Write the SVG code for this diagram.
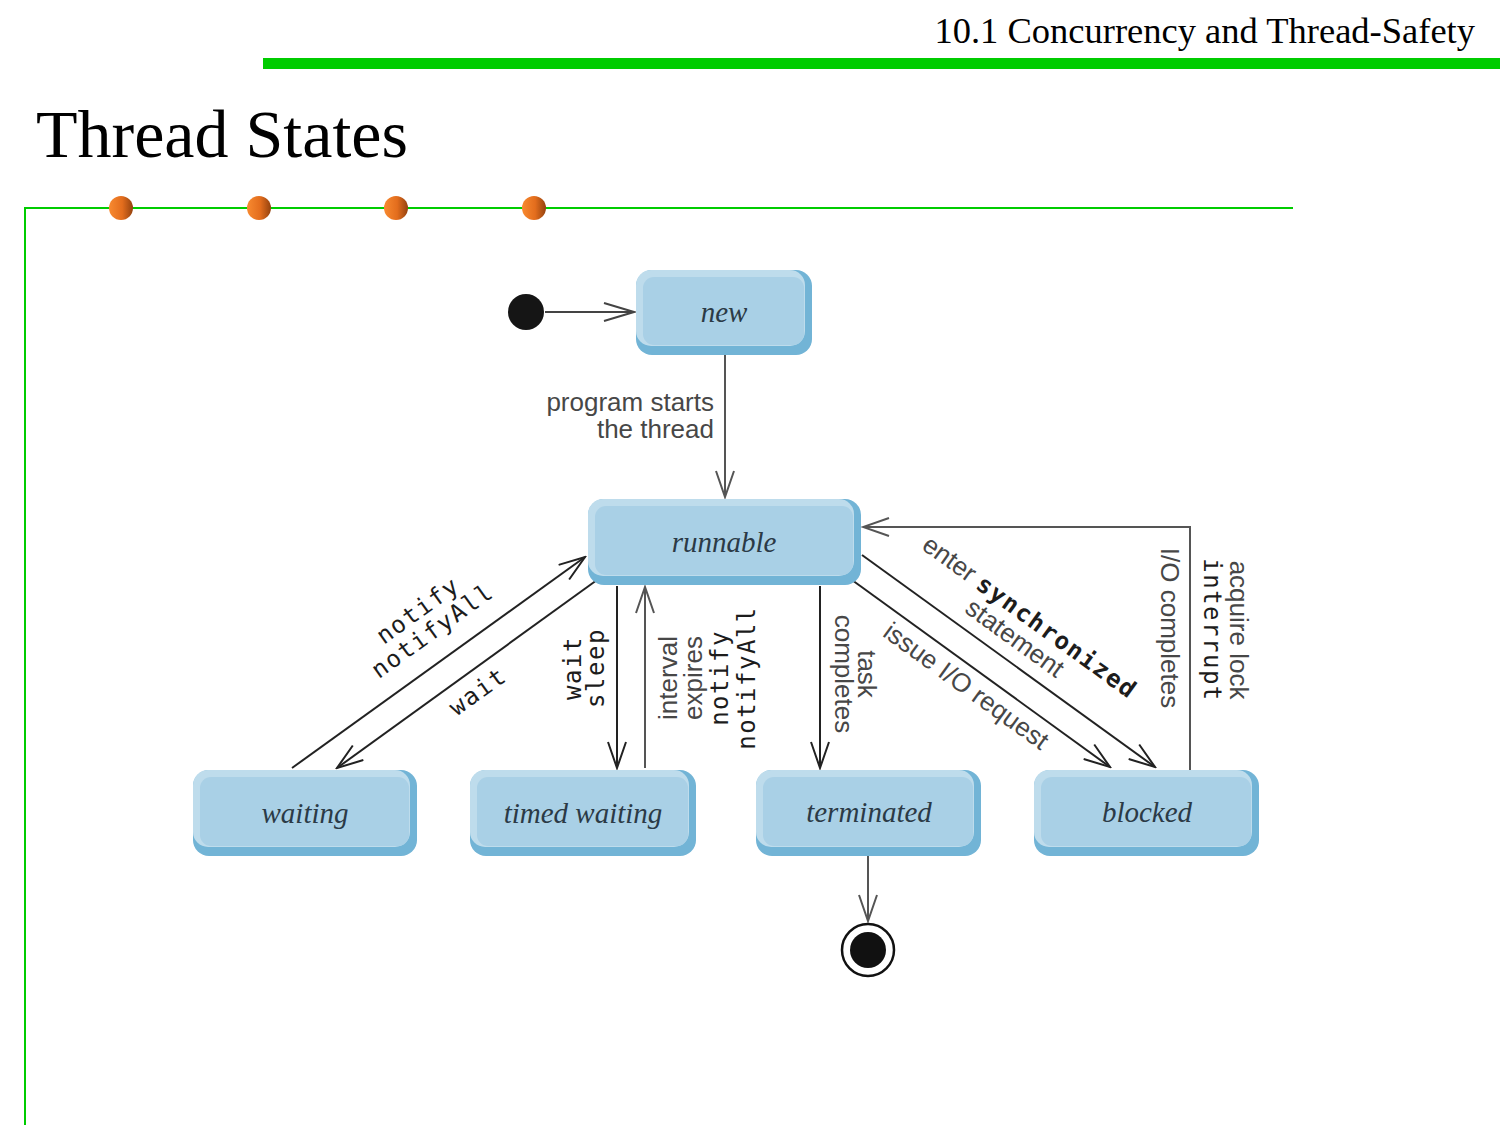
<svg xmlns="http://www.w3.org/2000/svg" width="1500" height="1125" viewBox="0 0 1500 1125">
  <defs>
    <linearGradient id="ball" x1="0" y1="0" x2="1" y2="0">
      <stop offset="0" stop-color="#f88a30"/>
      <stop offset="0.55" stop-color="#e36d1d"/>
      <stop offset="1" stop-color="#94420f"/>
    </linearGradient>
    <marker id="open" markerUnits="userSpaceOnUse" viewBox="0 0 30 20" markerWidth="30" markerHeight="20" refX="28" refY="10" orient="auto">
      <path d="M2,1 L28,10 L2,19" fill="none" stroke="#222" stroke-width="2"/>
    </marker>
    <marker id="openSoft" markerUnits="userSpaceOnUse" viewBox="0 0 30 20" markerWidth="30" markerHeight="20" refX="28" refY="10" orient="auto">
      <path d="M2,1 L28,10 L2,19" fill="none" stroke="#555" stroke-width="2"/>
    </marker>
    <marker id="openBig" markerUnits="userSpaceOnUse" viewBox="0 0 34 22" markerWidth="34" markerHeight="22" refX="32" refY="11" orient="auto">
      <path d="M2,2 L32,11 L2,20" fill="none" stroke="#444" stroke-width="2"/>
    </marker>
  </defs>
  <style>
    .serif{font-family:"Liberation Serif","DejaVu Serif",serif;fill:#000}
    .shade{fill:#72b4d6}
    .rim{fill:#bedcec}
    .face{fill:#a9d0e6}
    .state{font-family:"Liberation Serif","DejaVu Serif",serif;font-style:italic;font-size:29px;fill:#2b3a46;text-anchor:middle}
    .lbl{font-family:"Liberation Sans",Arial,sans-serif;font-size:26px;fill:#474747}
    .mono{font-family:"DejaVu Sans Mono",monospace;font-size:24px;letter-spacing:1.5px;fill:#1c1c1c}
    .edge{fill:none;stroke:#222;stroke-width:2;marker-end:url(#open)}
    .soft{stroke:#555;marker-end:url(#openSoft)}
    .big{stroke:#444;marker-end:url(#openBig)}
    .dot{fill:url(#ball)}
  </style>

  <!-- page header -->
  <text class="serif" x="1475" y="43" font-size="36.5" text-anchor="end">10.1 Concurrency and Thread-Safety</text>
  <rect x="263" y="58" width="1237" height="11" fill="#00cc00"/>
  <text class="serif" x="36" y="157" font-size="68">Thread States</text>
  <path d="M25,1125 V208 H1293" fill="none" stroke="#00cc00" stroke-width="2"/>
  <circle class="dot" cx="121" cy="208" r="12"/>
  <circle class="dot" cx="259" cy="208" r="12"/>
  <circle class="dot" cx="396" cy="208" r="12"/>
  <circle class="dot" cx="534" cy="208" r="12"/>

  <!-- transitions -->
  <g id="connectors">
    <path class="edge big" d="M545,312 H634"/>
    <path class="edge soft" d="M725,355 V497"/>
    <path class="edge" d="M292,768 L585,557"/>
    <path class="edge" d="M597,580 L337,768"/>
    <path class="edge" d="M617,586 V768"/>
    <path class="edge soft" d="M645,768 V587"/>
    <path class="edge" d="M820,586 V768"/>
    <path class="edge" d="M852,580 L1110,767"/>
    <path class="edge" d="M862,555 L1155,767"/>
    <path class="edge soft" d="M1190,770 V527 H863"/>
    <path class="edge soft" d="M868,856 V921"/>

    <!-- transition labels -->
    <text class="lbl" text-anchor="end"><tspan x="714" y="411">program starts</tspan><tspan x="714" y="438">the thread</tspan></text>
    <g transform="translate(422.5,617) rotate(-35.75)">
      <text class="mono" text-anchor="middle"><tspan x="0" y="0">notify</tspan><tspan x="0" y="25">notifyAll</tspan></text>
    </g>
    <g transform="translate(482.5,698) rotate(-35.75)">
      <text class="mono" text-anchor="middle">wait</text>
    </g>
    <g transform="translate(581,668) rotate(-90)">
      <text class="mono" text-anchor="middle"><tspan x="0" y="0">wait</tspan><tspan x="0" y="23">sleep</tspan></text>
    </g>
    <g transform="translate(677,678) rotate(-90)">
      <text text-anchor="middle"><tspan class="lbl" x="0" y="0">interval</tspan><tspan class="lbl" x="0" y="25">expires</tspan><tspan class="mono" x="0" y="51">notify</tspan><tspan class="mono" x="0" y="78">notifyAll</tspan></text>
    </g>
    <g transform="translate(858,674) rotate(90)">
      <text class="lbl" text-anchor="middle"><tspan x="0" y="0">task</tspan><tspan x="0" y="23">completes</tspan></text>
    </g>
    <g transform="translate(1025,624) rotate(35.9)">
      <text text-anchor="middle"><tspan class="lbl" x="0" y="0">enter </tspan><tspan class="mono" font-weight="bold">synchronized</tspan><tspan class="lbl" x="0" y="26">statement</tspan></text>
    </g>
    <g transform="translate(961,693) rotate(35.9)">
      <text class="lbl" text-anchor="middle">issue I/O request</text>
    </g>
    <g transform="translate(1161,628) rotate(90)">
      <text class="lbl" text-anchor="middle">I/O completes</text>
    </g>
    <g transform="translate(1230,630) rotate(90)">
      <text text-anchor="middle"><tspan class="lbl" x="0" y="0">acquire lock</tspan><tspan class="mono" x="0" y="26">interrupt</tspan></text>
    </g>
  </g>

  <!-- pseudo states -->
  <g id="initial">
    <circle cx="526" cy="312" r="18" fill="#151515"/>
  </g>
  <g id="final">
    <circle cx="868" cy="950" r="26" fill="#fff" stroke="#111" stroke-width="2.5"/>
    <circle cx="868" cy="950" r="18" fill="#111"/>
  </g>

  <!-- states -->
  <g id="node-new">
    <rect class="shade" x="636" y="270" width="176" height="85" rx="16"/>
    <rect class="rim" x="636" y="270" width="169" height="76" rx="15"/>
    <rect class="face" x="643" y="277" width="161" height="68" rx="11"/>
    <text class="state" x="724" y="322">new</text>
  </g>
  <g id="node-runnable">
    <rect class="shade" x="588" y="499" width="273" height="86" rx="16"/>
    <rect class="rim" x="588" y="499" width="266" height="77" rx="15"/>
    <rect class="face" x="595" y="506" width="258" height="69" rx="11"/>
    <text class="state" x="724" y="552">runnable</text>
  </g>
  <g id="node-waiting">
    <rect class="shade" x="193" y="770" width="224" height="86" rx="16"/>
    <rect class="rim" x="193" y="770" width="217" height="77" rx="15"/>
    <rect class="face" x="200" y="777" width="209" height="69" rx="11"/>
    <text class="state" x="305" y="823">waiting</text>
  </g>
  <g id="node-timed-waiting">
    <rect class="shade" x="470" y="770" width="226" height="86" rx="16"/>
    <rect class="rim" x="470" y="770" width="219" height="77" rx="15"/>
    <rect class="face" x="477" y="777" width="211" height="69" rx="11"/>
    <text class="state" x="583" y="823">timed waiting</text>
  </g>
  <g id="node-terminated">
    <rect class="shade" x="756" y="770" width="225" height="86" rx="16"/>
    <rect class="rim" x="756" y="770" width="218" height="77" rx="15"/>
    <rect class="face" x="763" y="777" width="210" height="69" rx="11"/>
    <text class="state" x="869" y="822">terminated</text>
  </g>
  <g id="node-blocked">
    <rect class="shade" x="1034" y="770" width="225" height="86" rx="16"/>
    <rect class="rim" x="1034" y="770" width="218" height="77" rx="15"/>
    <rect class="face" x="1041" y="777" width="210" height="69" rx="11"/>
    <text class="state" x="1147" y="822">blocked</text>
  </g>
</svg>
